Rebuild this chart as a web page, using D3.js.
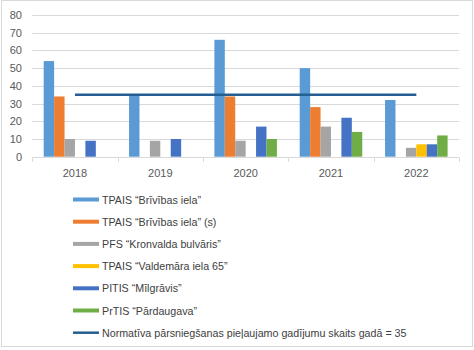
<!DOCTYPE html>
<html><head><meta charset="utf-8">
<script src="https://cdn.jsdelivr.net/npm/d3@7"></script>
<style>body{margin:0;background:#fff}svg{display:block}</style>
</head><body><svg id="c" width="474" height="350"></svg>
<script>
const years = ["2018","2019","2020","2021","2022"];
const seriesNames = ["TPAIS “Brīvības iela”","TPAIS “Brīvības iela” (s)","PFS “Kronvalda bulvāris”","TPAIS “Valdemāra iela 65”","PITIS “Mīlgrāvis”","PrTIS “Pārdaugava”"];
const colors = ["#5B9BD5","#ED7D31","#A5A5A5","#FFC000","#4472C4","#70AD47"];
const values = [
  [54,35,66,50,32],
  [34,0,34,28,0],
  [10,9,9,17,5],
  [0,0,0,0,7],
  [9,10,17,22,7],
  [0,0,10,14,12]
];
const normLabel = "Normatīva pārsniegšanas pieļaujamo gadījumu skaits gadā = 35";
const normValue = 35;
const yTicks = [0,10,20,30,40,50,60,70,80];

const svg = d3.select("#c");
const font = "'Liberation Sans', Arial, sans-serif";
svg.append("rect").attr("x",1.5).attr("y",0.5).attr("width",471).attr("height",346)
  .attr("fill","#fff").attr("stroke","#d9d9d9");

const y = d3.scaleLinear().domain([0,80]).range([156.7,15]);
const x0 = d3.scaleBand().domain(years).range([32.3,459]).padding(0);
const x1 = d3.scaleBand().domain(d3.range(seriesNames.length)).range([11.4, x0.bandwidth()-11.4]).padding(0);

// gridlines
svg.append("g").selectAll("line").data(yTicks.slice(1)).join("line")
  .attr("x1",32.3).attr("x2",459).attr("y1",d=>Math.round(y(d))+0.5).attr("y2",d=>Math.round(y(d))+0.5)
  .attr("stroke","#d9d9d9").attr("stroke-width",1);

// y labels
svg.append("g").selectAll("text").data(yTicks).join("text")
  .attr("x",22).attr("y",d=>y(d)+4).attr("text-anchor","end")
  .attr("font-family",font).attr("font-size",11).attr("fill","#595959").text(d=>d);

// bars
years.forEach((yr,i)=>{
  const g = svg.append("g").attr("transform",`translate(${x0(yr)},0)`);
  g.selectAll("rect").data(values.map((s,k)=>({k,v:s[i]})).filter(d=>d.v>0)).join("rect")
    .attr("x",d=>x1(d.k)).attr("width",x1.bandwidth())
    .attr("y",d=>y(d.v)).attr("height",d=>y(0)-y(d.v))
    .attr("fill",d=>colors[d.k]);
});

// x axis
const ax = svg.append("g");
ax.append("line").attr("x1",32.3).attr("x2",459).attr("y1",157.5).attr("y2",157.5).attr("stroke","#d9d9d9");
const tickXs = years.map(d=>x0(d)).concat([x0.range()[1]]);
ax.selectAll("line.t").data(tickXs).join("line").attr("class","t")
  .attr("x1",d=>Math.round(d)+0.5).attr("x2",d=>Math.round(d)+0.5).attr("y1",157.5).attr("y2",162)
  .attr("stroke","#d9d9d9");
ax.selectAll("text").data(years).join("text")
  .attr("x",d=>x0(d)+x0.bandwidth()/2).attr("y",177).attr("text-anchor","middle")
  .attr("font-family",font).attr("font-size",11).attr("fill","#595959").text(d=>d);

// norm line
svg.append("line")
  .attr("x1",x0(years[0])+x0.bandwidth()/2).attr("x2",x0(years[years.length-1])+x0.bandwidth()/2)
  .attr("y1",y(normValue)).attr("y2",y(normValue))
  .attr("stroke","#255E91").attr("stroke-width",2.5);

// legend
const leg = svg.append("g");
const items = seriesNames.map((n,k)=>({n,c:colors[k],line:false})).concat([{n:normLabel,c:"#255E91",line:true}]);
items.forEach((it,i)=>{
  const cy = 199.5 + i*22.2;
  if(it.line){
    leg.append("line").attr("x1",73).attr("x2",99).attr("y1",cy).attr("y2",cy).attr("stroke",it.c).attr("stroke-width",2.5);
  } else {
    leg.append("rect").attr("x",73).attr("y",cy-2).attr("width",26).attr("height",4).attr("fill",it.c);
  }
  leg.append("text").attr("x",102).attr("y",cy+4).attr("font-family",font).attr("font-size",10.7)
    .attr("fill","#404040").text(it.n);
});
</script></body></html>
